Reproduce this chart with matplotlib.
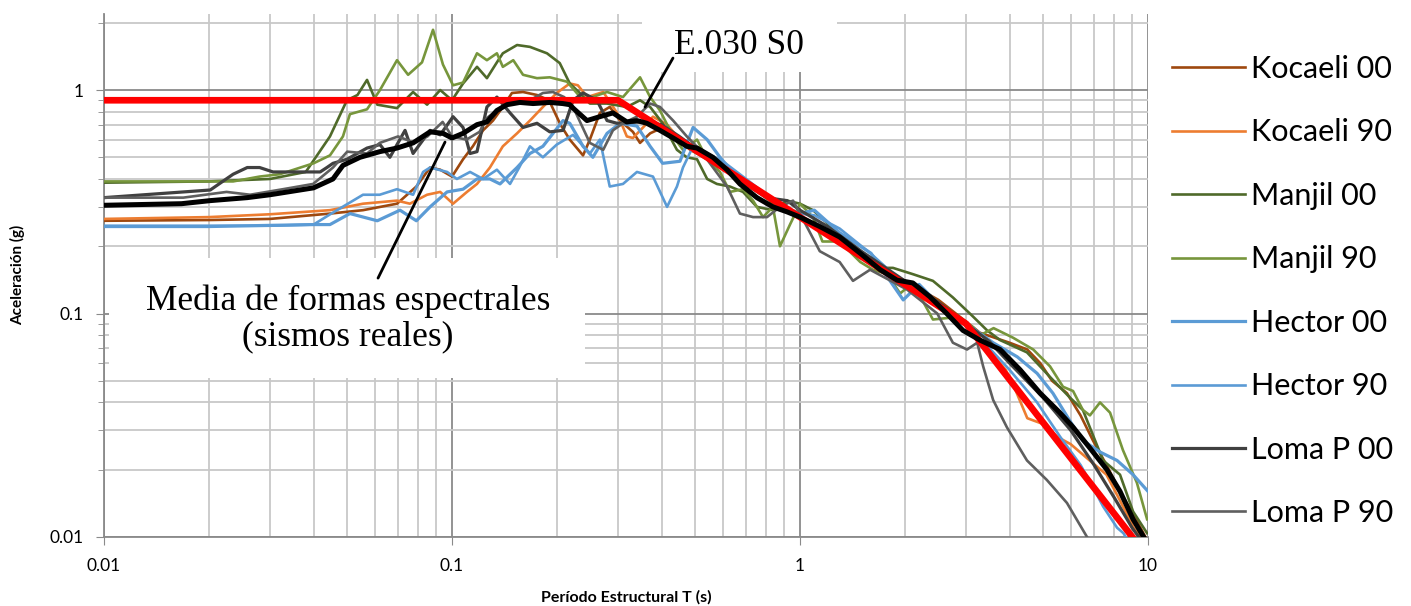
import matplotlib
matplotlib.use('Agg')
import matplotlib.pyplot as plt
from matplotlib.patches import Rectangle
from matplotlib.ticker import LogLocator, FuncFormatter, NullFormatter

# spectral shapes: (period T [s], acceleration [g])
kocaeli00 = [(0.01, 0.26), (0.02, 0.262), (0.03, 0.265), (0.0446, 0.28), (0.0555, 0.29), (0.0695, 0.31),
             (0.079, 0.37), (0.0865, 0.45), (0.0925, 0.44), (0.1, 0.41), (0.1076, 0.49), (0.1148, 0.56),
             (0.1228, 0.66), (0.1312, 0.73), (0.14, 0.84), (0.1487, 0.97), (0.16, 0.98), (0.1755, 0.95),
             (0.19, 0.90), (0.205, 0.70), (0.218, 0.60), (0.238, 0.51), (0.249, 0.60), (0.266, 0.79),
             (0.284, 0.84), (0.304, 0.73), (0.331, 0.65), (0.347, 0.58), (0.371, 0.64), (0.403, 0.68),
             (0.443, 0.60), (0.484, 0.54), (0.541, 0.49), (0.64, 0.43), (0.733, 0.37), (0.836, 0.31),
             (0.955, 0.28), (1.2, 0.23), (1.5, 0.18), (2.0, 0.14), (2.5, 0.115), (3.0, 0.092), (3.29, 0.082),
             (4.0, 0.074), (4.5, 0.069), (4.9, 0.060), (5.3, 0.050), (5.85, 0.044), (6.4, 0.035),
             (6.95, 0.027), (7.6, 0.021), (8.3, 0.016), (9.06, 0.0127), (9.7, 0.0104), (10, 0.0095)]

kocaeli90 = [(0.01, 0.265), (0.02, 0.27), (0.03, 0.278), (0.0446, 0.29), (0.0555, 0.31), (0.0695, 0.32),
             (0.0757, 0.31), (0.0848, 0.34), (0.0925, 0.35), (0.1007, 0.31), (0.1104, 0.35), (0.118, 0.38),
             (0.1285, 0.45), (0.14, 0.56), (0.1538, 0.64), (0.1675, 0.73), (0.1825, 0.84), (0.2, 0.97),
             (0.218, 1.07), (0.23, 1.05), (0.245, 0.93), (0.272, 0.98), (0.298, 0.79), (0.318, 0.62),
             (0.331, 0.61), (0.354, 0.68), (0.378, 0.76), (0.415, 0.70), (0.452, 0.60), (0.493, 0.54),
             (0.6, 0.46), (0.7, 0.39), (0.8, 0.33), (1.0, 0.27), (1.3, 0.21), (1.6, 0.17), (2.0, 0.135),
             (2.5, 0.108), (3.0, 0.088), (3.5, 0.068), (3.9, 0.056), (4.1, 0.048), (4.5, 0.034),
             (5.0, 0.032), (5.5, 0.028), (6.0, 0.026), (6.8, 0.022), (7.6, 0.019), (8.3, 0.0146),
             (9.1, 0.011), (9.8, 0.0095)]

manjil00 = [(0.01, 0.385), (0.02, 0.39), (0.03, 0.40), (0.038, 0.43), (0.0446, 0.62), (0.0499, 0.90),
            (0.0535, 0.95), (0.057, 1.11), (0.061, 0.86), (0.0695, 0.83), (0.0773, 0.98), (0.0848, 0.86),
            (0.0925, 1.0), (0.1, 0.90), (0.1076, 1.07), (0.118, 1.27), (0.126, 1.13), (0.1346, 1.33),
            (0.14, 1.46), (0.1538, 1.59), (0.1675, 1.56), (0.1875, 1.46), (0.204, 1.32), (0.218, 1.07),
            (0.233, 0.97), (0.249, 0.87), (0.279, 0.87), (0.318, 0.84), (0.347, 0.90), (0.371, 0.84),
            (0.403, 0.71), (0.443, 0.54), (0.473, 0.50), (0.506, 0.49), (0.541, 0.40), (0.577, 0.38),
            (0.629, 0.37), (0.686, 0.35), (0.752, 0.30), (0.836, 0.29), (0.918, 0.32), (1.0, 0.31),
            (1.09, 0.29), (1.245, 0.24), (1.49, 0.19), (1.70, 0.16), (1.85, 0.16), (2.11, 0.15),
            (2.41, 0.14), (2.75, 0.118), (3.14, 0.097), (3.45, 0.084), (3.76, 0.076), (4.49, 0.067),
            (5.23, 0.052), (5.97, 0.042), (6.5, 0.037), (7.43, 0.022), (8.31, 0.019), (9.06, 0.013),
            (9.94, 0.0104)]

manjil90 = [(0.01, 0.39), (0.0235, 0.39), (0.028, 0.41), (0.032, 0.42), (0.04, 0.47), (0.0446, 0.51),
            (0.0486, 0.62), (0.0509, 0.78), (0.057, 0.82), (0.0621, 1.0), (0.0695, 1.36), (0.0748, 1.17),
            (0.082, 1.33), (0.0882, 1.86), (0.0942, 1.30), (0.1007, 1.05), (0.1076, 1.08), (0.118, 1.46),
            (0.126, 1.36), (0.1346, 1.46), (0.14, 1.27), (0.15, 1.36), (0.16, 1.17), (0.1755, 1.13),
            (0.191, 1.14), (0.214, 1.09), (0.238, 0.90), (0.279, 0.98), (0.31, 0.93), (0.347, 1.14),
            (0.371, 0.93), (0.396, 0.81), (0.432, 0.62), (0.461, 0.54), (0.506, 0.60), (0.541, 0.49),
            (0.589, 0.43), (0.629, 0.35), (0.686, 0.36), (0.733, 0.32), (0.783, 0.27), (0.836, 0.30),
            (0.876, 0.20), (0.936, 0.25), (1.0, 0.31), (1.09, 0.27), (1.16, 0.21), (1.30, 0.21),
            (1.49, 0.17), (1.62, 0.157), (1.78, 0.15), (1.94, 0.123), (2.11, 0.137), (2.41, 0.094),
            (2.75, 0.096), (3.14, 0.087), (3.3, 0.08), (3.6, 0.086), (4.09, 0.078), (4.68, 0.069),
            (5.23, 0.058), (5.70, 0.047), (6.09, 0.045), (6.5, 0.037), (6.81, 0.035), (7.28, 0.040),
            (7.78, 0.036), (8.47, 0.0245), (9.29, 0.0175), (9.94, 0.012)]

hector00 = [(0.01, 0.245), (0.02, 0.245), (0.03, 0.248), (0.04, 0.25), (0.0446, 0.25), (0.0509, 0.28),
            (0.061, 0.26), (0.0709, 0.29), (0.079, 0.26), (0.0865, 0.30), (0.0968, 0.35), (0.1076, 0.36),
            (0.118, 0.40), (0.1285, 0.40), (0.1374, 0.38), (0.1538, 0.45), (0.1675, 0.52), (0.1825, 0.56),
            (0.2085, 0.73), (0.218, 0.71), (0.238, 0.56), (0.254, 0.50), (0.279, 0.64), (0.304, 0.71),
            (0.34, 0.69), (0.371, 0.56), (0.403, 0.47), (0.452, 0.48), (0.493, 0.68), (0.541, 0.60),
            (0.589, 0.50), (0.64, 0.43), (0.8, 0.34), (0.9, 0.30), (1.0, 0.28), (1.1, 0.29), (1.3, 0.23),
            (1.6, 0.186), (1.98, 0.115), (2.2, 0.135), (2.5, 0.11), (3.0, 0.09), (3.59, 0.074),
            (4.21, 0.064), (4.8, 0.054), (5.33, 0.044), (5.97, 0.033), (6.5, 0.027), (7.28, 0.024),
            (8.15, 0.022), (9.06, 0.019), (10, 0.016)]

hector90 = [(0.01, 0.247), (0.03, 0.247), (0.04, 0.25), (0.045, 0.28), (0.0555, 0.34), (0.062, 0.34),
            (0.0695, 0.36), (0.0773, 0.34), (0.0826, 0.43), (0.0865, 0.45), (0.0968, 0.43), (0.1033, 0.40),
            (0.1127, 0.43), (0.1228, 0.40), (0.1346, 0.44), (0.1468, 0.38), (0.156, 0.45), (0.1675, 0.56),
            (0.1825, 0.50), (0.2, 0.57), (0.2228, 0.63), (0.249, 0.52), (0.266, 0.60), (0.284, 0.37),
            (0.31, 0.38), (0.34, 0.43), (0.378, 0.41), (0.415, 0.30), (0.443, 0.37), (0.461, 0.45),
            (0.493, 0.56), (0.541, 0.52), (0.6, 0.48), (0.7, 0.40), (0.8, 0.34), (0.9, 0.30), (1.0, 0.28),
            (1.1, 0.275), (1.3, 0.24), (1.6, 0.185), (2.0, 0.135), (2.5, 0.108), (3.0, 0.088), (3.5, 0.07),
            (4.0, 0.056), (4.8, 0.04), (5.6, 0.028), (6.4, 0.021), (6.95, 0.0167), (7.43, 0.0137),
            (8.15, 0.011), (8.5, 0.0104), (8.8, 0.0095)]

lomap00 = [(0.01, 0.33), (0.0202, 0.357), (0.0235, 0.42), (0.0258, 0.45), (0.028, 0.45), (0.0306, 0.43),
           (0.0336, 0.43), (0.0383, 0.43), (0.0418, 0.43), (0.0437, 0.45), (0.0455, 0.47), (0.0499, 0.49),
           (0.057, 0.55), (0.0621, 0.57), (0.0663, 0.50), (0.0733, 0.66), (0.0773, 0.52), (0.0865, 0.66),
           (0.0925, 0.63), (0.1007, 0.76), (0.1076, 0.68), (0.1127, 0.52), (0.118, 0.53), (0.126, 0.84),
           (0.1346, 0.93), (0.1468, 0.79), (0.16, 0.68), (0.1755, 0.71), (0.191, 0.65), (0.2085, 0.66),
           (0.2228, 0.90), (0.238, 0.97), (0.261, 0.90), (0.279, 0.73), (0.298, 0.71), (0.35, 0.72),
           (0.4, 0.70), (0.45, 0.62), (0.5, 0.55), (0.6, 0.45), (0.7, 0.38), (0.8, 0.33), (0.918, 0.32),
           (1.0, 0.29), (1.2, 0.245), (1.5, 0.19), (2.0, 0.14), (2.5, 0.112), (3.0, 0.09), (3.5, 0.075),
           (4.0, 0.060), (5.0, 0.042), (6.0, 0.030), (7.0, 0.021), (8.0, 0.015), (9.0, 0.011), (9.5, 0.0098)]

lomap90 = [(0.01, 0.33), (0.0169, 0.33), (0.0225, 0.35), (0.0263, 0.34), (0.0327, 0.36), (0.0399, 0.38),
           (0.0455, 0.45), (0.05, 0.53), (0.057, 0.52), (0.062, 0.58), (0.07, 0.62), (0.078, 0.58),
           (0.085, 0.62), (0.094, 0.72), (0.1, 0.62), (0.11, 0.60), (0.12, 0.65), (0.126, 0.75),
           (0.14, 0.85), (0.1675, 0.90), (0.1825, 0.97), (0.195, 0.98), (0.21, 0.93), (0.2228, 0.84),
           (0.249, 0.58), (0.272, 0.54), (0.29, 0.66), (0.31, 0.71), (0.34, 0.76), (0.371, 0.87),
           (0.396, 0.84), (0.432, 0.73), (0.473, 0.62), (0.516, 0.54), (0.617, 0.37), (0.672, 0.28),
           (0.733, 0.27), (0.804, 0.27), (0.876, 0.30), (0.955, 0.32), (1.0, 0.28), (1.14, 0.19),
           (1.30, 0.17), (1.42, 0.14), (1.59, 0.157), (2.03, 0.128), (2.48, 0.10), (2.75, 0.074),
           (3.02, 0.069), (3.23, 0.074), (3.36, 0.058), (3.59, 0.041), (3.93, 0.031), (4.49, 0.022),
           (5.12, 0.018), (5.85, 0.0142), (6.68, 0.01), (7.0, 0.0092)]

media = [(0.01, 0.305), (0.0167, 0.31), (0.0202, 0.32), (0.0258, 0.33), (0.03, 0.34), (0.04, 0.365),
         (0.0455, 0.40), (0.0486, 0.46), (0.0544, 0.50), (0.062, 0.53), (0.0695, 0.55), (0.0773, 0.58),
         (0.0865, 0.65), (0.0942, 0.64), (0.1, 0.61), (0.1076, 0.64), (0.118, 0.70), (0.126, 0.72),
         (0.1346, 0.81), (0.1439, 0.86), (0.1567, 0.88), (0.171, 0.87), (0.191, 0.88), (0.208, 0.87),
         (0.218, 0.86), (0.2228, 0.83), (0.2443, 0.73), (0.266, 0.76), (0.29, 0.79), (0.318, 0.72),
         (0.34, 0.73), (0.363, 0.71), (0.396, 0.66), (0.432, 0.61), (0.473, 0.56), (0.506, 0.55),
         (0.562, 0.50), (0.617, 0.44), (0.672, 0.38), (0.752, 0.33), (0.836, 0.30), (0.918, 0.285),
         (1.0, 0.27), (1.14, 0.245), (1.30, 0.22), (1.49, 0.186), (1.70, 0.157), (1.90, 0.141),
         (2.11, 0.137), (2.36, 0.119), (2.64, 0.10), (2.94, 0.084), (3.29, 0.076), (3.76, 0.069),
         (4.29, 0.056), (4.90, 0.044), (5.58, 0.036), (6.09, 0.031), (6.81, 0.025), (7.62, 0.020),
         (8.31, 0.016), (9.06, 0.012), (9.68, 0.0101), (10, 0.0093)]

e030_s0 = [(0.01, 0.9), (0.3, 0.9), (1.0, 0.27), (3.0, 0.09), (9.3, 0.0094), (10, 0.0081)]

records = [('Kocaeli 00', kocaeli00, '#9E480E', 1.9),
           ('Kocaeli 90', kocaeli90, '#ED7D31', 1.9),
           ('Manjil 00', manjil00, '#4F6A2A', 1.9),
           ('Manjil 90', manjil90, '#77963C', 1.9),
           ('Hector 00', hector00, '#5B9BD5', 2.3),
           ('Hector 90', hector90, '#5B9BD5', 1.9),
           ('Loma P 00', lomap00, '#404040', 2.3),
           ('Loma P 90', lomap90, '#5F5F5F', 1.9)]

fig = plt.figure(figsize=(14.11, 6.06), dpi=100)
ax = fig.add_axes([0.0737, 0.1139, 0.7399, 0.8638])

for name, pts, col, lw in records:
    t, sa = zip(*pts)
    ax.plot(t, sa, color=col, lw=lw, label=name, solid_joinstyle='round', zorder=3)

t, sa = zip(*e030_s0)
ax.plot(t, sa, color='#FF0000', lw=4.8, zorder=4, solid_capstyle='butt')
t, sa = zip(*media)
ax.plot(t, sa, color='#000000', lw=3.6, zorder=5, solid_joinstyle='round')

ax.set_xscale('log')
ax.set_yscale('log')
ax.set_xlim(0.01, 10)
ax.set_ylim(0.01, 2.2)

ax.xaxis.set_minor_locator(LogLocator(base=10, subs=range(2, 10)))
ax.yaxis.set_minor_locator(LogLocator(base=10, subs=range(2, 10)))
fmt = FuncFormatter(lambda v, p: f'{v:g}')
ax.xaxis.set_major_formatter(fmt)
ax.yaxis.set_major_formatter(fmt)
ax.xaxis.set_minor_formatter(NullFormatter())
ax.yaxis.set_minor_formatter(NullFormatter())

ax.set_axisbelow(True)
ax.grid(which='major', color='#8a8a8a', lw=1.3)
ax.grid(which='minor', color='#c8c8c8', lw=1.3)
for s in ['top', 'right']:
    ax.spines[s].set_visible(False)
for s in ['left', 'bottom']:
    ax.spines[s].set_color('#8a8a8a')
    ax.spines[s].set_linewidth(1.3)

ax.tick_params(axis='both', which='major', direction='out', length=6, color='#8a8a8a',
               labelsize=12.5, pad=9)
ax.tick_params(axis='x', which='minor', length=0)
ax.tick_params(axis='y', which='minor', direction='out', length=4, color='#8a8a8a')
for lab in ax.get_xticklabels() + ax.get_yticklabels():
    lab.set_family('Lato')

ax.set_ylabel('Aceleración (g)', fontsize=11, fontweight='bold', family='Lato', labelpad=17)
ax.set_xlabel('Período Estructural T (s)', fontsize=11.5, fontweight='bold', family='Lato', labelpad=12)

# white boxes behind the callouts
ax.add_patch(Rectangle((0.005, 0.304), 0.456, 0.229, transform=ax.transAxes,
                       facecolor='white', edgecolor='none', zorder=1))
ax.add_patch(Rectangle((0.515, 0.888), 0.187, 0.14, transform=ax.transAxes,
                       facecolor='white', edgecolor='none', zorder=1, clip_on=False))

ax.text(0.0502, 0.0945, 'Media de formas espectrales\n(sismos reales)', ha='center', va='center',
        family='Liberation Serif', fontsize=25.5, linespacing=1.1, zorder=6)
ax.annotate('', xy=(0.0955, 0.585), xytext=(0.0613, 0.144),
            arrowprops=dict(arrowstyle='-', color='black', lw=2, shrinkA=0, shrinkB=0), zorder=6)

ax.text(0.668, 1.59, 'E.030 S0', ha='center', va='center', family='Liberation Serif',
        fontsize=25.5, zorder=6)
ax.annotate('', xy=(0.3586, 0.839), xytext=(0.4315, 1.39),
            arrowprops=dict(arrowstyle='-', color='black', lw=2, shrinkA=0, shrinkB=0), zorder=6)

fig.legend(loc='upper left', bbox_to_anchor=(1172 / 1411, 1 - 55 / 606), frameon=False,
           prop={'family': 'Lato', 'size': 22}, handlelength=2.4, handletextpad=0.2,
           labelspacing=1.16, borderpad=0, borderaxespad=0)

fig.savefig('out.png', dpi=100, facecolor='white')
